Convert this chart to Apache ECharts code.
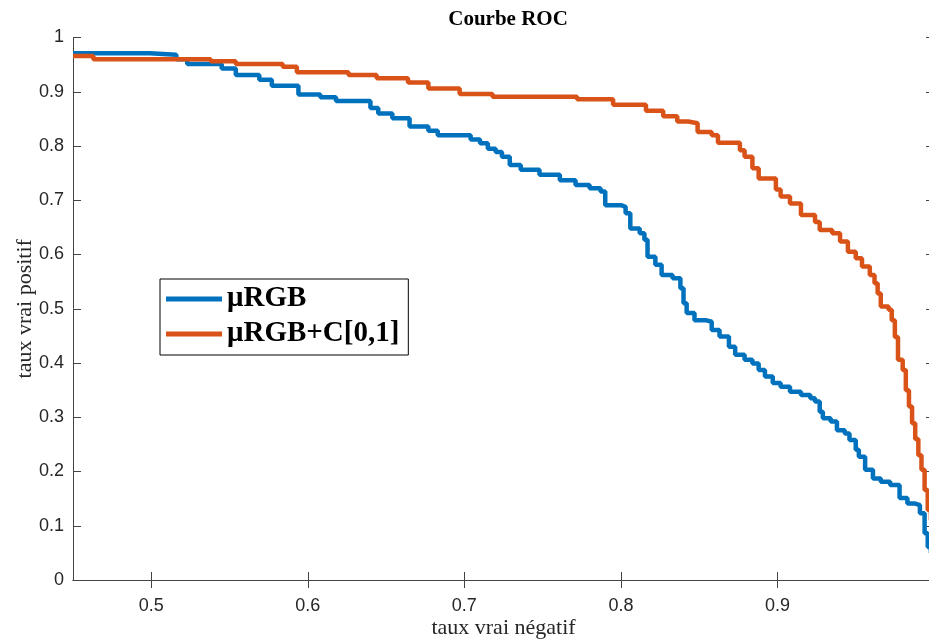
<!DOCTYPE html>
<html>
<head>
<meta charset="utf-8">
<script src="https://cdn.jsdelivr.net/npm/echarts@6/dist/echarts.min.js"></script>
<style>
  html, body { margin: 0; padding: 0; background: #fff; }
  #main { width: 929px; height: 639px; }
</style>
</head>
<body>
<div id="main"></div>
<script>
// courbe ROC : taux vrai négatif (x) / taux vrai positif (y)
var rgbTnr = [0.450, 0.499, 0.516, 0.523, 0.545, 0.554, 0.569, 0.577, 0.594, 0.608, 0.618, 0.640, 0.645, 0.654,
  0.665, 0.677, 0.683, 0.704, 0.710, 0.715, 0.720, 0.724, 0.729, 0.736, 0.748, 0.761, 0.771, 0.780, 0.787, 0.790,
  0.800, 0.803, 0.806, 0.812, 0.815, 0.817, 0.822, 0.826, 0.833, 0.838, 0.840, 0.842, 0.847, 0.854, 0.858, 0.863,
  0.869, 0.873, 0.879, 0.884, 0.888, 0.892, 0.897, 0.902, 0.908, 0.915, 0.921, 0.924, 0.927, 0.929, 0.934, 0.938,
  0.943, 0.946, 0.950, 0.952, 0.956, 0.961, 0.966, 0.972, 0.978, 0.983, 0.988, 0.991, 0.994, 0.996, 0.998]
var rgbTpr = [0.971, 0.968, 0.960, 0.951, 0.943, 0.931, 0.922, 0.911, 0.895, 0.890, 0.883, 0.870, 0.860, 0.851,
  0.836, 0.828, 0.820, 0.812, 0.805, 0.795, 0.789, 0.780, 0.765, 0.756, 0.747, 0.737, 0.728, 0.722, 0.716, 0.691,
  0.688, 0.676, 0.648, 0.639, 0.627, 0.596, 0.581, 0.562, 0.556, 0.538, 0.510, 0.492, 0.479, 0.476, 0.461, 0.449,
  0.430, 0.415, 0.406, 0.399, 0.387, 0.375, 0.363, 0.356, 0.347, 0.341, 0.335, 0.329, 0.310, 0.298, 0.292, 0.276,
  0.270, 0.258, 0.240, 0.227, 0.203, 0.187, 0.181, 0.175, 0.151, 0.141, 0.138, 0.123, 0.086, 0.061, 0.050]

var rgbcTnr = [0.450, 0.463, 0.538, 0.554, 0.584, 0.593, 0.626, 0.644, 0.664, 0.677, 0.697, 0.718, 0.772, 0.795,
  0.816, 0.827, 0.836, 0.843, 0.849, 0.858, 0.862, 0.876, 0.879, 0.884, 0.888, 0.899, 0.902, 0.908, 0.915, 0.924,
  0.927, 0.935, 0.940, 0.945, 0.950, 0.954, 0.959, 0.962, 0.964, 0.966, 0.971, 0.973, 0.975, 0.977, 0.980, 0.982,
  0.984, 0.986, 0.988, 0.990, 0.992, 0.994, 0.996, 0.998]
var rgbcTpr = [0.966, 0.960, 0.956, 0.951, 0.946, 0.936, 0.931, 0.925, 0.917, 0.906, 0.896, 0.891, 0.886, 0.876,
  0.865, 0.855, 0.845, 0.842, 0.826, 0.820, 0.806, 0.792, 0.780, 0.759, 0.740, 0.720, 0.707, 0.694, 0.673, 0.660,
  0.645, 0.639, 0.624, 0.605, 0.593, 0.578, 0.562, 0.547, 0.528, 0.504, 0.498, 0.479, 0.448, 0.406, 0.387, 0.350,
  0.320, 0.289, 0.260, 0.230, 0.203, 0.166, 0.129, 0.110]

var xTicks = [0.5, 0.6, 0.7, 0.8, 0.9, 1]
var xLabels = [0.5, 0.6, 0.7, 0.8, 0.9]
var seriesNames = ['μRGB', 'μRGB+C[0,1]']
var colors = ['#0072BD', '#D95319']

function pairs (xs, ys) {
  return xs.map(function (x, i) { return [x, ys[i]] })
}

var sans = "'Liberation Sans', Arial, Helvetica, sans-serif"
var serif = "'Liberation Serif', 'Times New Roman', Times, serif"
var axisColor = '#444'

var chart = echarts.init(document.getElementById('main'))
var option = {
  animation: false,
  color: colors,
  title: {
    text: 'Courbe ROC',
    left: 503,
    textAlign: 'center',
    top: 4,
    textStyle: { fontFamily: serif, fontWeight: 'bold', fontSize: 21, color: '#000' }
  },
  legend: {
    orient: 'vertical',
    left: 160,
    top: 279,
    padding: [5, 9, 6, 6],
    itemGap: 5,
    itemWidth: 56,
    itemHeight: 5,
    icon: 'rect',
    borderColor: '#000',
    borderWidth: 1,
    backgroundColor: '#fff',
    data: seriesNames,
    textStyle: { fontFamily: serif, fontWeight: 'bold', fontSize: 29, lineHeight: 30, color: '#000' }
  },
  // le cadre droit (x = 1) tombe juste hors de l'image
  grid: { left: 73, top: 37.5, right: -5, bottom: 59, outerBoundsMode: 'none', containLabel: false },
  xAxis: [
    {
      type: 'value',
      min: 0.45,
      max: 1,
      name: 'taux vrai négatif',
      nameLocation: 'middle',
      nameGap: 37,
      nameMoveOverlap: false,
      nameTextStyle: { fontFamily: serif, fontSize: 22, color: '#262626' },
      axisLine: { show: true, lineStyle: { color: axisColor } },
      axisTick: { inside: true, length: 8, customValues: xTicks, lineStyle: { color: axisColor } },
      axisLabel: { customValues: xLabels, fontFamily: sans, fontSize: 18, color: '#262626', margin: 17 },
      splitLine: { show: false }
    },
    {
      type: 'value',
      position: 'top',
      min: 0.45,
      max: 1,
      axisLine: { show: true, lineStyle: { color: axisColor } },
      axisTick: { inside: true, length: 8, customValues: xTicks, lineStyle: { color: axisColor } },
      axisLabel: { show: false },
      splitLine: { show: false }
    }
  ],
  yAxis: [
    {
      type: 'value',
      min: 0,
      max: 1,
      interval: 0.1,
      name: 'taux vrai positif',
      nameLocation: 'middle',
      nameGap: 37,
      nameMoveOverlap: false,
      nameTextStyle: { fontFamily: serif, fontSize: 22, color: '#262626' },
      axisLine: { show: true, lineStyle: { color: axisColor } },
      axisTick: { inside: true, length: 8, lineStyle: { color: axisColor } },
      axisLabel: { fontFamily: sans, fontSize: 18, color: '#262626', margin: 9 },
      splitLine: { show: false }
    },
    {
      type: 'value',
      position: 'right',
      min: 0,
      max: 1,
      interval: 0.1,
      axisLine: { show: true, lineStyle: { color: axisColor } },
      axisTick: { inside: true, length: 8, lineStyle: { color: axisColor } },
      axisLabel: { show: false },
      splitLine: { show: false }
    }
  ],
  series: [
    {
      name: seriesNames[0],
      type: 'line',
      step: 'end',
      showSymbol: false,
      symbol: 'none',
      lineStyle: { width: 4.5 },
      data: pairs(rgbTnr, rgbTpr)
    },
    {
      name: seriesNames[1],
      type: 'line',
      step: 'end',
      showSymbol: false,
      symbol: 'none',
      lineStyle: { width: 4.5 },
      data: pairs(rgbcTnr, rgbcTpr)
    }
  ]
}
chart.setOption(option)
</script>
</body>
</html>
